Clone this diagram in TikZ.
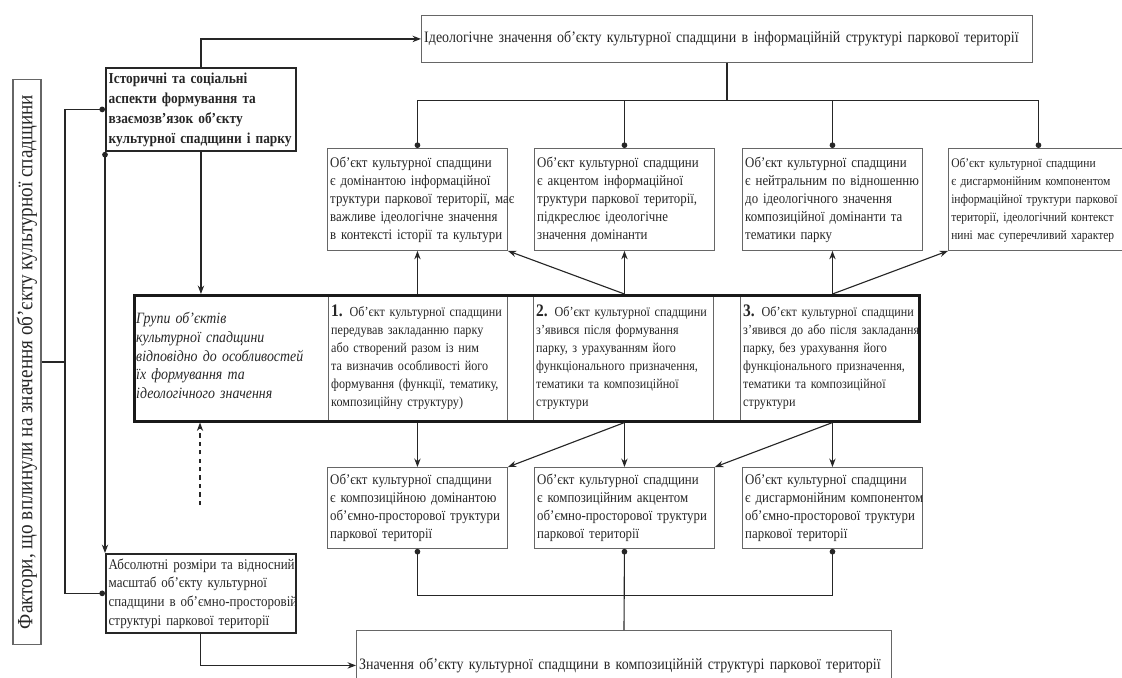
\documentclass[tikz,border=0pt]{standalone}
\usepackage{fontspec}
\setmainfont{Liberation Serif}[FakeStretch=0.88]
\usetikzlibrary{arrows.meta}
\newcommand{\boxrows}[1]{\begin{tabular}{@{}l@{}}#1\end{tabular}}

\begin{document}
\begin{tikzpicture}[x=0.025cm, y=-0.025cm, >={Stealth[length=6pt,width=4.5pt]},
    box/.style={draw=black!60, line width=0.6pt, anchor=north west, align=left, inner xsep=2pt, inner ysep=1pt, text=black!85, font=\fontsize{10.4}{12.8}\selectfont},
    infobox/.style={box, text width=4.36cm, minimum height=2.55cm},
    formbox/.style={box, text width=4.36cm, minimum height=2.025cm},
    groupcell/.style={box, minimum height=3.15cm, font=\fontsize{9.8}{12.8}\selectfont},
    link/.style={line width=0.8pt, black!85},
    dot/.style={-{Circle[length=4pt]}}
]
\useasboundingbox (0,0) rectangle (1122,677);

% left column
\node[draw=black!60, line width=1.2pt, rotate=90, minimum width=14.125cm, minimum height=0.7cm, inner sep=1pt, text=black!85, font=\fontsize{15.5}{16}\selectfont] (factors) at (27,362) {Фактори, що вплинули на значення об’єкту культурної спадщини};
\node[box, text width=4.61cm, minimum height=2.075cm, line width=1.3pt, draw=black!85, font=\bfseries\fontsize{10.8}{14.2}\selectfont] (hist) at (105,67) {\boxrows{Історичні та соціальні\\аспекти формування та\\взаємозв’язок об’єкту\\культурної спадщини і парку}};
\node[box, text width=4.61cm, minimum height=1.975cm, line width=1.2pt, draw=black!85, font=\fontsize{10.5}{13.3}\selectfont] (absol) at (105,553) {\boxrows{Абсолютні розміри та відносний\\масштаб об’єкту культурної\\спадщини в об’ємно-просторовій\\структурі паркової території}};

% top and bottom
\node[box, text width=15.135cm, minimum height=1.175cm, font=\fontsize{11.3}{13}\selectfont] (top) at (421,15) {\boxrows{Ідеологічне значення об’єкту культурної спадщини в інформаційній структурі паркової території}};
\node[box, text width=13.235cm, minimum height=1.75cm, font=\fontsize{11.3}{13}\selectfont] (bottom) at (356,630) {\boxrows{Значення об’єкту культурної спадщини в композиційній структурі паркової території}};

% information row
\node[infobox] (r1) at (327,148) {\boxrows{Об’єкт культурної спадщини\\є домінантою інформаційної\\труктури паркової території, має\\важливе ідеологічне значення\\в контексті історії та культури}};
\node[infobox] (r2) at (534,148) {\boxrows{Об’єкт культурної спадщини\\є акцентом інформаційної\\труктури паркової території,\\підкреслює ідеологічне\\значення домінанти}};
\node[infobox] (r3) at (742,148) {\boxrows{Об’єкт культурної спадщини\\є нейтральним по відношенню\\до ідеологічного значення\\композиційної домінанти та\\тематики парку}};
\node[infobox, font=\fontsize{9.3}{12.8}\selectfont] (r4) at (948,148) {\boxrows{Об’єкт культурної спадщини\\є дисгармонійним компонентом\\інформаційної труктури паркової\\території, ідеологічний контекст\\нині має суперечливий характер}};

% groups
\node[groupcell, draw=none, text width=4.735cm, font=\itshape\fontsize{11.2}{13.3}\selectfont] (g0) at (133,294) {\boxrows{Групи об’єктів\\культурної спадщини\\відповідно до особливостей\\їх формування та\\ідеологічного значення}};
\node[groupcell, text width=4.335cm] (g1) at (328,294) {\boxrows{{\bfseries\fontsize{12.5}{12}\selectfont 1.} Об’єкт культурної спадщини\\передував закладанню парку\\або створений разом із ним\\та визначив особливості його\\формування (функції, тематику,\\композиційну структуру)}};
\node[groupcell, text width=4.36cm] (g2) at (533,294) {\boxrows{{\bfseries\fontsize{12.5}{12}\selectfont 2.} Об’єкт культурної спадщини\\з’явився після формування\\парку, з урахуванням його\\функціонального призначення,\\тематики та  композиційної\\структури}};
\node[groupcell, text width=4.31cm] (g3) at (740,294) {\boxrows{{\bfseries\fontsize{12.5}{12}\selectfont 3.} Об’єкт культурної спадщини\\з’явився до або після закладання\\парку, без урахування його\\функціонального призначення,\\тематики та композиційної\\структури}};
\node[draw=black!90, line width=1.8pt, anchor=north west, minimum width=19.625cm, minimum height=3.15cm] (band) at (133,294) {};

% composition row
\node[formbox] (b1) at (327,467) {\boxrows{Об’єкт культурної спадщини\\є композиційною домінантою\\об’ємно-просторової труктури\\паркової території}};
\node[formbox] (b2) at (534,467) {\boxrows{Об’єкт культурної спадщини\\є композиційним акцентом\\об’ємно-просторової труктури\\паркової території}};
\node[formbox] (b3) at (742,467) {\boxrows{Об’єкт культурної спадщини\\є дисгармонійним компонентом\\об’ємно-просторової труктури\\паркової території}};

% connectors on the left
\coordinate (busT) at ([xshift=-1cm]hist.west);
\draw[link, line width=1pt, {Circle[length=4pt]}-{Circle[length=4pt]}] (hist.west) -- (busT) |- (absol.west);
\draw[link, line width=1pt] (factors.south) -- (factors.south -| busT);
\draw[link, {Circle[length=4pt]}->] (hist.south west) -- (absol.north west);
\draw[link, line width=1.3pt, ->] (hist.north) |- (top.west);
\draw[link, ->] (hist.south) -- (hist.south |- band.north);
\draw[link, ->] (absol.south) |- (bottom.west);
\coordinate (dashfoot) at (200,505);
\draw[link, dashed, ->] (dashfoot) -- (dashfoot |- band.south);

% top bus
\foreach \n in {r1,r2,r3,r4}
    \draw[link, dot] (top.south) -- ++(0,38) -| (\n.north);

% from the groups
\foreach \n in {r1,r2,r3}
    \draw[link, ->] (\n.south |- band.north) -- (\n.south);
\draw[link, ->] (r2.south |- band.north) -- (r1.south east);
\draw[link, ->] (r3.south |- band.north) -- (r4.south west);
\foreach \n in {b1,b2,b3}
    \draw[link, ->] (\n.north |- band.south) -- (\n.north);
\draw[link, ->] (b2.north |- band.south) -- (b1.north east);
\draw[link, ->] (b3.north |- band.south) -- (b2.north east);

% bottom bus
\draw[link, {Circle[length=4pt]}-{Circle[length=4pt]}] (b1.south) -- ++(0,47) -| (b3.south);
\draw[link, {Circle[length=4pt]}-] (b2.south) -- (bottom.north);
\end{tikzpicture}
\end{document}
